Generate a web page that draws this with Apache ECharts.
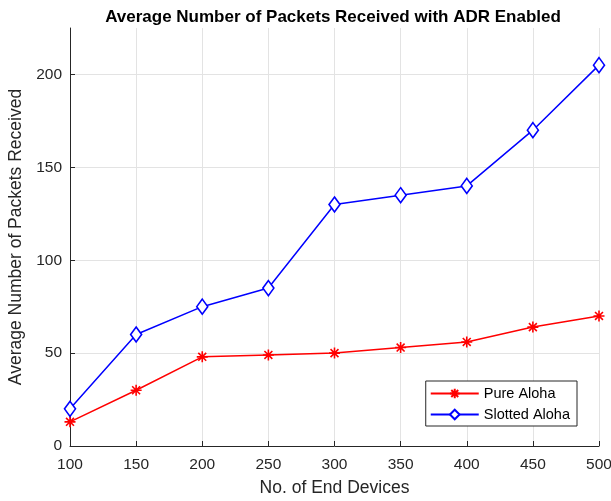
<!DOCTYPE html>
<html>
<head>
<meta charset="utf-8">
<script src="https://cdn.jsdelivr.net/npm/echarts@6/dist/echarts.min.js"></script>
<style>
  html, body { margin: 0; padding: 0; background: #fff; }
  #chart { width: 611px; height: 501px; }
</style>
</head>
<body>
<div id="chart"></div>
<script>
// Number of end devices on the x axis
const endDevices = [100, 150, 200, 250, 300, 350, 400, 450, 500];
// Average packets received per scheme
const pureAloha = [13, 30, 48, 49, 50, 53, 56, 64, 70];
const slottedAloha = [20, 60, 75, 85, 130, 135, 140, 170, 205];

const chartTitle = 'Average Number of Packets Received with ADR Enabled';
const xName = 'No. of End Devices';
const yName = 'Average Number of Packets Received';

const FONT = '"Liberation Sans", Arial, sans-serif';
const AXIS_COLOR = '#262626';
const GRID_COLOR = '#e3e3e3';

const asterisk = 'path://M0,-5L0,5M-5,0L5,0M-3.6,-3.6L3.6,3.6M-3.6,3.6L3.6,-3.6';
const diamond = 'path://M0,-7L5,0L0,7L-5,0Z';

function pairs(ys) { return endDevices.map((x, i) => [x, ys[i]]); }

const chart = echarts.init(document.getElementById('chart'), null, { renderer: 'canvas' });

chart.setOption({
  animation: false,
  backgroundColor: '#ffffff',
  textStyle: { fontFamily: FONT },
  title: {
    text: chartTitle,
    left: 328,
    textAlign: 'center',
    top: 4,
    textStyle: { fontFamily: FONT, fontSize: 17, fontWeight: 'bold', color: '#000' }
  },
  grid: { left: 70, right: 12, top: 28, bottom: 55, containLabel: false, outerBoundsMode: 'none' },
  xAxis: {
    type: 'value',
    min: 100, max: 500, interval: 50,
    name: xName, nameLocation: 'middle', nameGap: 33,
    nameTextStyle: { fontFamily: FONT, fontSize: 17.5, color: AXIS_COLOR },
    axisLine: { lineStyle: { color: AXIS_COLOR, width: 1 } },
    axisTick: { inside: true, length: 5, lineStyle: { color: AXIS_COLOR } },
    axisLabel: { fontFamily: FONT, fontSize: 15.5, color: AXIS_COLOR, margin: 11 },
    splitLine: { show: true, lineStyle: { color: GRID_COLOR, width: 1 } }
  },
  yAxis: {
    type: 'value',
    min: 0, max: 225, interval: 50,
    name: yName, nameLocation: 'middle', nameGap: 39,
    nameTextStyle: { fontFamily: FONT, fontSize: 17.5, color: AXIS_COLOR },
    axisLine: { show: true, lineStyle: { color: AXIS_COLOR, width: 1 } },
    axisTick: { show: true, inside: true, length: 5, lineStyle: { color: AXIS_COLOR } },
    axisLabel: { fontFamily: FONT, fontSize: 15.5, color: AXIS_COLOR, margin: 8, showMaxLabel: false },
    splitLine: { show: true, showMaxLine: false, lineStyle: { color: GRID_COLOR, width: 1 } }
  },
  legend: {
    orient: 'vertical',
    right: 34, bottom: 75,
    backgroundColor: '#fff',
    borderColor: '#262626', borderWidth: 1,
    padding: [5, 7, 4, 4],
    itemWidth: 48, itemHeight: 12, itemGap: 6,
    textStyle: { fontFamily: FONT, fontSize: 14.5, color: '#000' },
    data: ['Pure Aloha', 'Slotted Aloha']
  },
  series: [
    {
      name: 'Pure Aloha',
      type: 'line',
      data: pairs(pureAloha),
      symbol: asterisk,
      symbolSize: 11,
      lineStyle: { color: '#ff0000', width: 1.5 },
      itemStyle: { color: '#ff0000', borderColor: '#ff0000', borderWidth: 1.6 },
      z: 3
    },
    {
      name: 'Slotted Aloha',
      type: 'line',
      data: pairs(slottedAloha),
      symbol: diamond,
      symbolSize: [11, 15],
      lineStyle: { color: '#0000ff', width: 1.5 },
      itemStyle: { color: '#ffffff', borderColor: '#0000ff', borderWidth: 1.6 },
      z: 4
    }
  ]
});
</script>
</body>
</html>
